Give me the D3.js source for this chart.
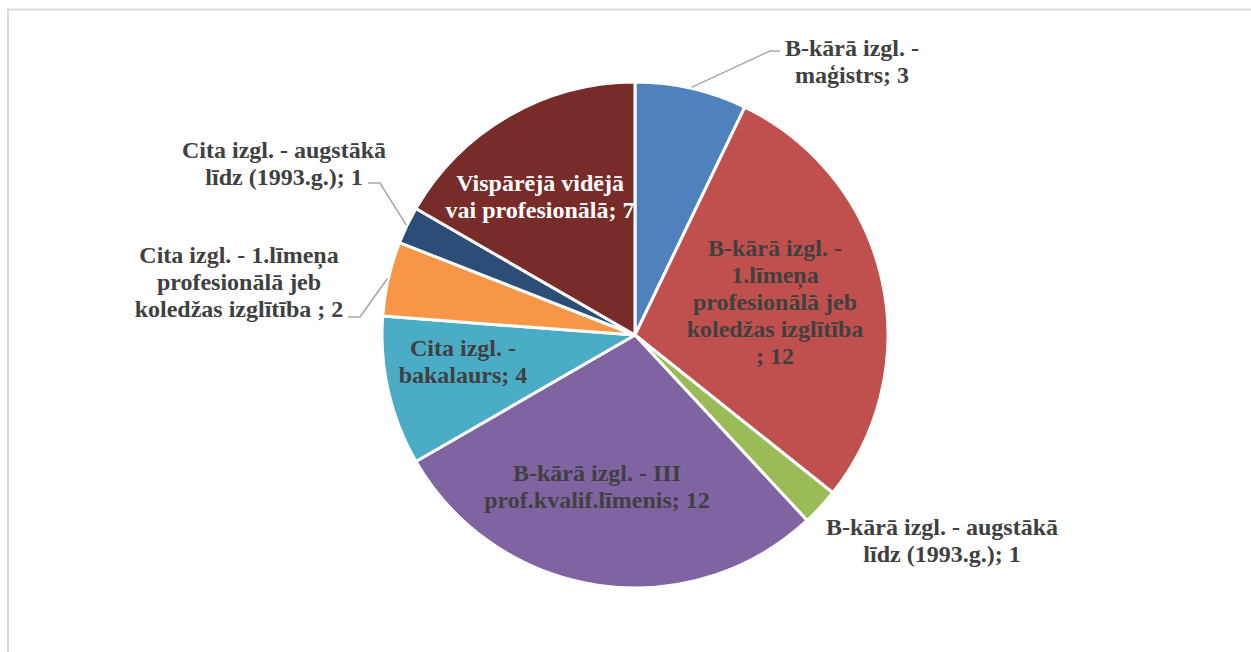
<!DOCTYPE html>
<html>
<head>
<meta charset="utf-8">
<script src="https://cdn.jsdelivr.net/npm/d3@7"></script>
<style>
  html, body { margin: 0; padding: 0; background: #fff; }
  svg { display: block; }
  text { font-family: "Liberation Serif", "Times New Roman", serif; font-weight: bold; }
</style>
</head>
<body>
<svg id="chart" width="1251" height="652"></svg>
<script>
// ---- data ----
const categories = [
  "B-kārā izgl. - maģistrs",
  "B-kārā izgl. - 1.līmeņa profesionālā jeb koledžas izglītība ",
  "B-kārā izgl. - augstākā līdz (1993.g.)",
  "B-kārā izgl. - III prof.kvalif.līmenis",
  "Cita izgl. - bakalaurs",
  "Cita izgl. - 1.līmeņa profesionālā jeb koledžas izglītība ",
  "Cita izgl. - augstākā līdz (1993.g.)",
  "Vispārējā vidējā vai profesionālā"
];
const values = [3, 12, 1, 12, 4, 2, 1, 7];
const labelLines = [
  ["B-kārā izgl. -", "maģistrs; 3"],
  ["B-kārā izgl. -", "1.līmeņa", "profesionālā jeb", "koledžas izglītība", "; 12"],
  ["B-kārā izgl. - augstākā", "līdz (1993.g.); 1"],
  ["B-kārā izgl. - III", "prof.kvalif.līmenis; 12"],
  ["Cita izgl. -", "bakalaurs; 4"],
  ["Cita izgl. - 1.līmeņa", "profesionālā jeb", "koledžas izglītība ; 2"],
  ["Cita izgl. - augstākā", "līdz (1993.g.); 1"],
  ["Vispārējā vidējā", "vai profesionālā; 7"]
];

// ---- styles / layout ----
const colors = ["#4f81bd", "#c0504d", "#9bbb59", "#8064a2", "#4bacc6", "#f79646", "#2c4d75", "#772c2a"];
const textColors = ["#404040", "#404040", "#404040", "#404040", "#404040", "#404040", "#404040", "#ffffff"];
// label centre offsets from pie centre (dx, dy of first line centre), and leader elbow/end
const labelLayout = [
  {dx: 217, dy: -287, leader: [[135, -284], [145, -284]]},
  {dx: 140, dy: -87},
  {dx: 307, dy: 192},
  {dx: -38, dy: 138},
  {dx: -172, dy: 13},
  {dx: -396, dy: -80, leader: [[-275, -18], [-287, -18]]},
  {dx: -351, dy: -185, leader: [[-255, -152], [-267, -152]]},
  {dx: -95, dy: -152}
];
const cx = 635, cy = 335, R = 253;
const fontSize = 24, lineH = 27;

const svg = d3.select("#chart");

// chart frame
svg.append("rect")
  .attr("x", 8).attr("y", 9.5)
  .attr("width", 1400).attr("height", 800)
  .attr("fill", "none").attr("stroke", "#d9d9d9").attr("stroke-width", 2);

const pie = d3.pie().sort(null).value(d => d)(values);
const arc = d3.arc().innerRadius(0).outerRadius(R);

const g = svg.append("g").attr("transform", `translate(${cx},${cy})`);

g.selectAll("path.slice")
  .data(pie)
  .join("path")
  .attr("class", "slice")
  .attr("d", arc)
  .attr("fill", (d, i) => colors[i])
  .attr("stroke", "#ffffff")
  .attr("stroke-width", 3)
  .attr("stroke-linejoin", "round");

// leader lines
pie.forEach((d, i) => {
  const L = labelLayout[i];
  if (!L.leader) return;
  const mid = (d.startAngle + d.endAngle) / 2;
  const p0 = [Math.sin(mid) * (R + 1), -Math.cos(mid) * (R + 1)];
  const pts = [p0, ...L.leader];
  g.append("path")
    .attr("d", d3.line()(pts))
    .attr("fill", "none")
    .attr("stroke", "#a6a6a6")
    .attr("stroke-width", 1.5);
});

// labels
pie.forEach((d, i) => {
  const L = labelLayout[i];
  const t = g.append("text")
    .attr("text-anchor", "middle")
    .attr("font-size", fontSize)
    .attr("fill", textColors[i]);
  labelLines[i].forEach((line, k) => {
    t.append("tspan")
      .attr("x", L.dx)
      .attr("y", L.dy + k * lineH)
      .attr("dy", "0.35em")
      .text(line);
  });
});
</script>
</body>
</html>
